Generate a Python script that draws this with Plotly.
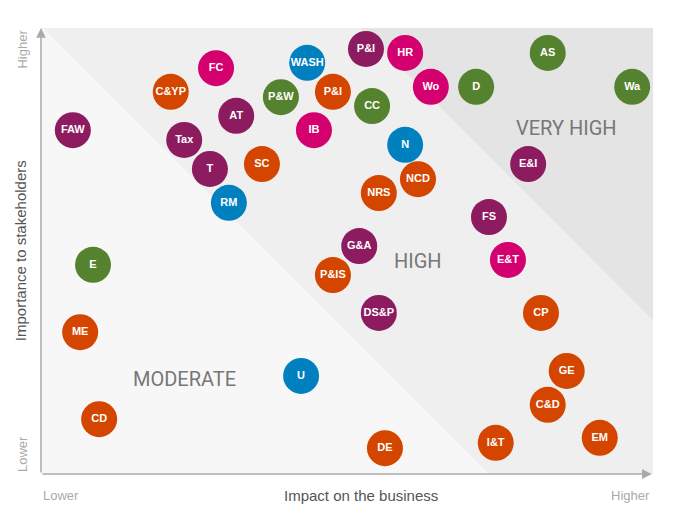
import plotly.graph_objects as go

# materiality matrix: impact on the business (x) vs importance to stakeholders (y), 0-100 scale
names = ["FAW", "C&YP", "FC", "WASH", "P&W", "AT", "Tax", "T", "SC", "RM",
         "IB", "P&I", "E", "ME", "CD", "U", "P&IS", "P&I", "HR", "Wo",
         "D", "AS", "Wa", "CC", "N", "NCD", "NRS", "E&I", "FS", "G&A",
         "E&T", "DS&P", "CP", "GE", "C&D", "I&T", "EM", "DE"]
impact = [5.2, 21.2, 28.6, 43.5, 39.2, 31.9, 23.4, 27.6, 36.1, 30.7,
          44.6, 47.7, 8.5, 6.4, 9.5, 42.5, 47.7, 53.1, 59.5, 63.7,
          71.1, 82.8, 96.6, 54.1, 59.5, 61.6, 55.2, 79.6, 73.2, 52.0,
          76.3, 55.2, 81.7, 85.9, 82.8, 74.3, 91.3, 56.2]
importance = [77.1, 85.7, 91.0, 92.2, 84.5, 80.3, 74.9, 68.4, 69.5, 60.8,
              77.1, 85.7, 46.9, 31.8, 12.3, 22.0, 44.6, 95.3, 94.4, 86.8,
              86.8, 94.4, 86.8, 82.5, 73.8, 66.1, 63.0, 69.5, 57.6, 51.1,
              48.0, 36.1, 36.1, 23.1, 15.5, 7.0, 8.1, 5.8]
group = ["purple", "orange", "magenta", "blue", "green", "purple", "purple", "purple", "orange", "blue",
         "magenta", "orange", "green", "orange", "orange", "blue", "orange", "purple", "magenta", "magenta",
         "green", "green", "green", "green", "blue", "orange", "orange", "purple", "purple", "purple",
         "magenta", "purple", "orange", "orange", "orange", "orange", "orange", "orange"]

palette = {"purple": "#8c1b60", "orange": "#d44500", "magenta": "#d4006f",
           "blue": "#0080bf", "green": "#54822e"}

zones = ["MODERATE", "HIGH", "VERY HIGH"]
zone_x = [23.5, 61.6, 85.8]
zone_y = [21.3, 47.8, 77.6]

fig = go.Figure()

# background zones
fig.add_shape(type="rect", x0=0, x1=100, y0=0, y1=100, xref="x", yref="y",
              fillcolor="#efefef", line_width=0, layer="below")
fig.add_shape(type="path", path="M 0 0 L 0 100 L 0.3 100 L 73.2 0 Z",
              fillcolor="#f7f7f7", line_width=0, layer="below")
fig.add_shape(type="path", path="M 52.3 100 L 100 100 L 100 34.5 Z",
              fillcolor="#e4e4e4", line_width=0, layer="below")

fig.add_trace(go.Scatter(
    x=impact, y=importance, mode="markers+text", text=names,
    textposition="middle center",
    textfont=dict(color="white", size=11, family="Liberation Sans", weight="bold"),
    marker=dict(size=36, color=[palette[g] for g in group], line=dict(width=0)),
    hoverinfo="text", cliponaxis=False))

for label, zx, zy in zip(zones, zone_x, zone_y):
    fig.add_annotation(x=zx, y=zy, text=label, showarrow=False,
                       font=dict(family="Roboto", size=20, color="#777777"))

# axis arrows
fig.add_annotation(x=99.8, y=0, ax=0, ay=0, axref="x", ayref="y", xref="x", yref="y",
                   text="", showarrow=True, arrowhead=2, arrowsize=1.3, arrowwidth=1.5,
                   arrowcolor="#aaaaaa")
fig.add_annotation(x=0, y=100, ax=0, ay=0, axref="x", ayref="y", xref="x", yref="y",
                   text="", showarrow=True, arrowhead=2, arrowsize=1.3, arrowwidth=1.5,
                   arrowcolor="#aaaaaa")

# axis titles and end labels (paper coords)
fig.add_annotation(xref="paper", yref="paper", x=0.523, y=-0.049, text="Impact on the business",
                   showarrow=False, xanchor="center", yanchor="middle",
                   font=dict(family="Liberation Sans", size=15, color="#555555"))
fig.add_annotation(xref="paper", yref="paper", x=-0.034, y=0.5, text="Importance to stakeholders",
                   showarrow=False, textangle=-90, xanchor="center", yanchor="middle",
                   font=dict(family="Liberation Sans", size=15, color="#555555"))
fig.add_annotation(xref="paper", yref="paper", x=0, y=-0.049, text="Lower", showarrow=False,
                   xanchor="left", yanchor="middle",
                   font=dict(family="Liberation Sans", size=13, color="#aaaaaa"))
fig.add_annotation(xref="paper", yref="paper", x=0.998, y=-0.049, text="Higher", showarrow=False,
                   xanchor="right", yanchor="middle",
                   font=dict(family="Liberation Sans", size=13, color="#aaaaaa"))
fig.add_annotation(xref="paper", yref="paper", x=-0.031, y=1.0, text="Higher", showarrow=False,
                   textangle=-90, xanchor="center", yanchor="top",
                   font=dict(family="Liberation Sans", size=13, color="#aaaaaa"))
fig.add_annotation(xref="paper", yref="paper", x=-0.031, y=0.0, text="Lower", showarrow=False,
                   textangle=-90, xanchor="center", yanchor="bottom",
                   font=dict(family="Liberation Sans", size=13, color="#aaaaaa"))

fig.update_xaxes(range=[0, 100], visible=False, fixedrange=True)
fig.update_yaxes(range=[0, 100], visible=False, fixedrange=True)
fig.update_layout(width=682, height=530, showlegend=False,
                  margin=dict(l=33, r=37, t=20, b=64),
                  plot_bgcolor="white", paper_bgcolor="white")

fig.write_html("out.html")
